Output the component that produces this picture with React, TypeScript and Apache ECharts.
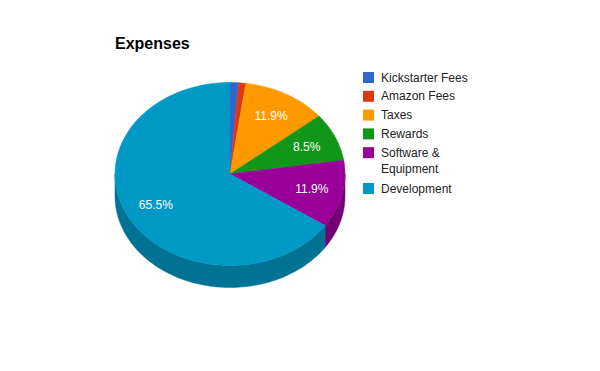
import React, { useEffect, useRef } from 'react';
import * as echarts from 'echarts';

const categories = ['Kickstarter Fees', 'Amazon Fees', 'Taxes', 'Rewards', 'Software & Equipment', 'Development'];
const values = [1.2, 1.0, 11.9, 8.5, 11.9, 65.5];
const colors = ['#3366cc', '#dc3912', '#ff9900', '#109618', '#990099', '#0099c6'];
const titleText = 'Expenses';

const FONT = '"Liberation Sans", Arial, sans-serif';

function darken(hex: string, f: number): string {
  const n = parseInt(hex.slice(1), 16);
  const r = Math.round(((n >> 16) & 255) * f);
  const g = Math.round(((n >> 8) & 255) * f);
  const b = Math.round((n & 255) * f);
  return '#' + [r, g, b].map((v) => v.toString(16).padStart(2, '0')).join('');
}

function wrapName(name: string, maxChars: number): string {
  if (name.length <= maxChars) return name;
  const cut = name.lastIndexOf(' ', maxChars);
  if (cut <= 0) return name;
  return name.slice(0, cut) + '\n' + name.slice(cut + 1);
}

export default function App() {
  const ref = useRef<HTMLDivElement>(null);

  useEffect(() => {
    const chart = echarts.init(ref.current as HTMLDivElement, null, { renderer: 'svg' });

    const total = values.reduce((a, b) => a + b, 0);
    const starts: number[] = [];
    let acc = 0;
    values.forEach((v) => {
      starts.push(acc);
      acc += v;
    });

    const CX = 230, CY = 174, RX = 115, RY = 91.5, DEPTH = 22;
    const pt = (deg: number, dy = 0): number[] => {
      const r = (deg * Math.PI) / 180;
      return [CX + RX * Math.sin(r), CY - RY * Math.cos(r) + dy];
    };
    const arcPts = (a0: number, a1: number, dy = 0): number[][] => {
      const n = Math.max(2, Math.ceil((a1 - a0) / 1.5));
      const out: number[][] = [];
      for (let i = 0; i <= n; i++) out.push(pt(a0 + ((a1 - a0) * i) / n, dy));
      return out;
    };

    const renderItem = (params: any, api: any) => {
      const i = params.dataIndex;
      const v = api.value(0);
      const a0 = (starts[i] / total) * 360;
      const a1 = ((starts[i] + v) / total) * 360;
      const color = colors[i];
      const children: any[] = [];

      // side wall (front half: 90..270 deg clockwise from top)
      const s0 = Math.max(a0, 90);
      const s1 = Math.min(a1, 270);
      if (s1 > s0) {
        const top = arcPts(s0, s1, 0);
        const bottom = arcPts(s0, s1, DEPTH).reverse();
        const side = darken(color, 0.75);
        children.push({
          type: 'polygon',
          shape: { points: top.concat(bottom) },
          style: { fill: side, stroke: side, lineWidth: 0.5 },
        });
      }

      children.push({
        type: 'polygon',
        shape: { points: [[CX, CY]].concat(arcPts(a0, a1, 0)) },
        style: { fill: color, stroke: color, lineWidth: 0.5 },
      });

      const pct = (v / total) * 100;
      if (pct >= 5) {
        const mid = ((a0 + a1) / 2) * Math.PI / 180;
        const f = 0.73;
        children.push({
          type: 'text',
          z2: 100,
          x: CX + RX * f * Math.sin(mid),
          y: CY - RY * f * Math.cos(mid),
          style: {
            text: pct.toFixed(1) + '%',
            fill: '#ffffff',
            fontSize: 12,
            fontFamily: FONT,
            align: 'center',
            verticalAlign: 'middle',
          },
        });
      }
      return { type: 'group', children };
    };

    // legend built from categories & colors
    const legendEls: any[] = [];
    let top = 72;
    categories.forEach((name, i) => {
      const label = wrapName(name, 18);
      const lines = label.split('\n').length;
      legendEls.push({
        type: 'rect',
        shape: { x: 363, y: top, width: 11, height: 11 },
        style: { fill: colors[i] },
      });
      legendEls.push({
        type: 'text',
        x: 381,
        y: top + 5.5 - 8,
        style: {
          text: label,
          fill: '#222222',
          fontSize: 12,
          fontFamily: FONT,
          lineHeight: 16,
          verticalAlign: 'top',
          align: 'left',
        },
      });
      top += 18.8 + (lines - 1) * 17;
    });

    chart.setOption({
      animation: false,
      backgroundColor: '#ffffff',
      title: {
        text: titleText,
        left: 115,
        top: 35,
        padding: 0,
        textStyle: { fontFamily: FONT, fontSize: 16, fontWeight: 'bold', color: '#000000' },
      },
      graphic: legendEls,
      series: [
        {
          type: 'custom',
          name: titleText,
          coordinateSystem: 'none',
          renderItem,
          data: values.map((v, i) => ({ name: categories[i], value: [v] })),
        },
      ],
    });

    return () => chart.dispose();
  }, []);

  return (
    <div
      ref={ref}
      style={{ position: 'fixed', left: 0, top: 0, width: 600, height: 371, background: '#fff' }}
    />
  );
}
